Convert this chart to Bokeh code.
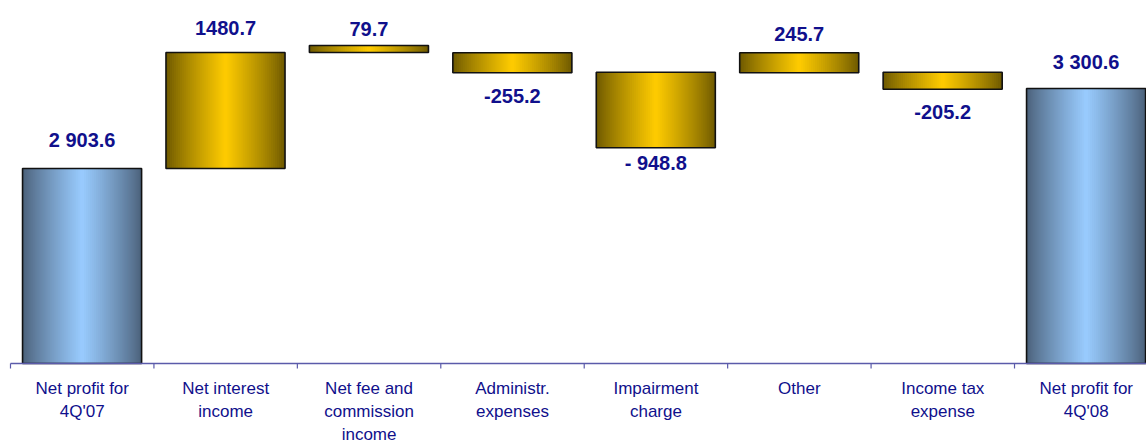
from bokeh.plotting import figure
from bokeh.models import Range1d, ColumnDataSource
from bokeh.core.properties import value
from bokeh.embed import file_html
from bokeh.resources import INLINE

# ---- data ----
categories = ["Net profit for\n4Q'07", "Net interest\nincome", "Net fee and\ncommission\nincome",
              "Administr.\nexpenses", "Impairment\ncharge", "Other", "Income tax\nexpense",
              "Net profit for\n4Q'08"]
value_labels = ["2 903.6", "1480.7", "79.7", "-255.2", "- 948.8", "245.7", "-205.2", "3 300.6"]
bar_kind = ["total", "up", "up", "down", "down", "up", "down", "total"]
# bar levels as drawn in the picture (chart units)
bar_bottom = [0, 2903.6, 4631, 4329, 3212, 4329, 4084, 0]
bar_top = [2903.6, 4631, 4735, 4626, 4337, 4626, 4337, 4095]

# ---- styling ----
W, H = 1146, 444
PX_X = 143.43          # pixels per category
PX_Y = 14.89           # chart units per pixel
LEFT_PX, AXIS_PX = 10, 363
label_gap_px = [28, 24, 17, 23, 15, 19, 23, 26]
BAR_LEFT, BAR_RIGHT = 0.084, 0.914
N_STRIPS = 60
NAVY = "#10108C"
AXIS_COLOR = "#5B5BAA"


def hex2rgb(h):
    h = h.lstrip("#")
    return [int(h[i:i + 2], 16) for i in (0, 2, 4)]


def mix(c1, c2, t):
    a, b = hex2rgb(c1), hex2rgb(c2)
    return "#%02x%02x%02x" % tuple(int(round(a[i] + (b[i] - a[i]) * t)) for i in range(3))


palettes = {
    "total": ("#4A5F78", "#99CCFF"),
    "up": ("#6B5700", "#FFCC00"),
    "down": ("#6B5700", "#FFCC00"),
}

x_start = -LEFT_PX / PX_X
x_end = (W - LEFT_PX) / PX_X
y_start = -(H - AXIS_PX) * PX_Y
y_end = AXIS_PX * PX_Y

p = figure(width=W, height=H, output_backend="svg", toolbar_location=None,
           x_range=Range1d(x_start, x_end), y_range=Range1d(y_start, y_end),
           x_axis_location=None, y_axis_location=None,
           min_border_left=0, min_border_right=0, min_border_top=0, min_border_bottom=0)
p.outline_line_color = None
p.grid.visible = False
p.background_fill_color = "white"
p.border_fill_color = "white"

n = len(categories)

# gradient strips (overlapping so no seams)
sl, sr, sb, st, sc = [], [], [], [], []
for i in range(n):
    dark, light = palettes[bar_kind[i]]
    x0 = i + BAR_LEFT
    w = BAR_RIGHT - BAR_LEFT
    for s in range(N_STRIPS):
        u = (s + 0.5) / N_STRIPS
        t = (1 - abs(2 * u - 1)) ** 0.85
        sl.append(x0 + s * w / N_STRIPS)
        sr.append(min(x0 + (s + 2) * w / N_STRIPS, x0 + w))
        sb.append(bar_bottom[i])
        st.append(bar_top[i])
        sc.append(mix(dark, light, t))
p.quad(left=sl, right=sr, bottom=sb, top=st, fill_color=sc, line_color=None)

# bar outlines
p.quad(left=[i + BAR_LEFT for i in range(n)], right=[i + BAR_RIGHT for i in range(n)],
       bottom=bar_bottom, top=bar_top, fill_color=None, line_color="#111111", line_width=1.6)

# category axis: line, tick marks between categories, labels
p.segment(x0=[0], y0=[0], x1=[n], y1=[0], line_color=AXIS_COLOR, line_width=1.3)
p.segment(x0=list(range(n + 1)), y0=[0] * (n + 1), x1=list(range(n + 1)),
          y1=[-5 * PX_Y] * (n + 1), line_color=AXIS_COLOR, line_width=1.2)
p.text(x=[i + 0.5 for i in range(n)], y=[0] * n, text=categories, y_offset=15,
       text_align="center", text_baseline="top", text_font=value("Liberation Sans"),
       text_font_size="17px", text_color=NAVY, text_line_height=1.23)

# value labels
lx, ly, loff = [], [], []
for i in range(n):
    lx.append(i + (BAR_LEFT + BAR_RIGHT) / 2)
    if bar_kind[i] == "down":
        ly.append(bar_bottom[i])
        loff.append(label_gap_px[i])
    else:
        ly.append(bar_top[i])
        loff.append(-label_gap_px[i])
src = ColumnDataSource(dict(x=lx, y=ly, t=value_labels, off=loff))
p.text(x="x", y="y", text="t", y_offset="off", source=src, text_align="center",
       text_baseline="middle", text_font=value("Liberation Sans"), text_font_style="bold",
       text_font_size="20px", text_color=NAVY)

open("out.html", "w").write(file_html(p, INLINE))
